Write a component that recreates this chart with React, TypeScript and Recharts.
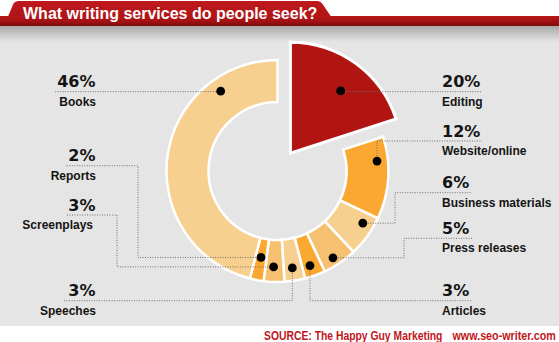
import React from 'react';
import { PieChart, Pie, Cell } from 'recharts';

const categories = [
  'Editing',
  'Website/online',
  'Business materials',
  'Press releases',
  'Articles',
  'Speeches',
  'Screenplays',
  'Reports',
  'Books',
];
const shares = [20, 12, 6, 5, 3, 3, 3, 2, 46];
const shareLabels = ['20%', '12%', '6%', '5%', '3%', '3%', '3%', '2%', '46%'];

const title = 'What writing services do people seek?';
const sourceText = 'SOURCE: The Happy Guy Marketing';
const siteText = 'www.seo-writer.com';

const data = categories.map((name, i) => ({ name, value: shares[i], label: shareLabels[i] }));

const RED = '#B01512';
const ORANGE = '#FAA832';
const LIGHT = '#F7D08F';
const MEDIUM = '#F5C170';
const sliceColors = [RED, ORANGE, LIGHT, MEDIUM, ORANGE, LIGHT, MEDIUM, ORANGE, LIGHT];

const W = 559;
const H = 342;
const CX = 277.5;
const CY = 171;
const OUTER = 111;
const INNER = 69;
const EXPLODE = 22;

// where the dot sits in its slice (fraction of the sweep, radius) and how the leader runs
type Layout = {
  at: number;
  r: number;
  side: 'left' | 'right';
  lineY: number;
  endX: number;
  elbowX?: number;
  nameX?: number;
};
const layout: Record<string, Layout> = {
  Editing: { at: 0.54, r: 80, side: 'right', lineY: 91.7, endX: 482 },
  'Website/online': { at: 0.285, r: 100, side: 'right', lineY: 141, endX: 482 },
  'Business materials': { at: 0.29, r: 100, side: 'right', lineY: 192.7, endX: 472, elbowX: 395 },
  'Press releases': { at: 0.59, r: 103, side: 'right', lineY: 238.3, endX: 472, elbowX: 404 },
  Articles: { at: 0.58, r: 100, side: 'right', lineY: 300.7, endX: 472 },
  Speeches: { at: 0.53, r: 98, side: 'left', lineY: 300.7, endX: 63 },
  Screenplays: { at: 0.55, r: 96, side: 'left', lineY: 215, endX: 66, elbowX: 117, nameX: 93 },
  Reports: { at: 0.5, r: 88, side: 'left', lineY: 165.7, endX: 65, elbowX: 138 },
  Books: { at: 0.786, r: 98, side: 'left', lineY: 91.7, endX: 55 },
};

const valueFont = '"DejaVu Sans", sans-serif';
const nameFont = '"Liberation Sans", Arial, sans-serif';

const makeLabel = (exploded: boolean) => (props: any) => {
  const { cx, cy, startAngle, endAngle, index } = props;
  if ((index === 0) !== exploded) return <g />;
  const name = categories[index];
  const lay = layout[name];
  const a = startAngle + (endAngle - startAngle) * lay.at;
  const rad = (-a * Math.PI) / 180;
  const x = cx + lay.r * Math.cos(rad);
  const y = cy + lay.r * Math.sin(rad);
  const pts = lay.elbowX !== undefined
    ? [[x, y], [lay.elbowX, y], [lay.elbowX, lay.lineY], [lay.endX, lay.lineY]]
    : [[x, y], [x, lay.lineY], [lay.endX, lay.lineY]];
  const right = lay.side === 'right';
  const tx = right ? 442 : 95.5;
  return (
    <g key={`ann-${index}`}>
      <polyline
        points={pts.map((p) => p.join(',')).join(' ')}
        fill="none"
        stroke="#6e6e6e"
        strokeWidth={1}
        strokeDasharray="1 1.5"
      />
      <circle cx={x} cy={y} r={4.4} fill="#000" />
      <text
        x={tx}
        y={lay.lineY - 4.3}
        textAnchor={right ? 'start' : 'end'}
        fontFamily={valueFont}
        fontWeight="bold"
        fontSize={16}
        fill="#141414"
      >
        {shareLabels[index]}
      </text>
      <text
        x={right ? tx : lay.nameX ?? tx + 0.5}
        y={lay.lineY + 13.8}
        textAnchor={right ? 'start' : 'end'}
        fontFamily={nameFont}
        fontWeight="bold"
        fontSize={12}
        fill="#141414"
      >
        {name}
      </text>
    </g>
  );
};

const Backdrop = () => (
  <svg width={W} height={H} style={{ position: 'absolute', left: 0, top: 0 }}>
    <defs>
      <linearGradient id="band" x1="0" y1="0" x2="0" y2="1">
        <stop offset="0" stopColor="#B8161A" />
        <stop offset="0.5" stopColor="#A51214" />
        <stop offset="1" stopColor="#7A0D0D" />
      </linearGradient>
      <linearGradient id="tab" x1="0" y1="0" x2="0" y2="1">
        <stop offset="0" stopColor="#C0191D" />
        <stop offset="1" stopColor="#B01516" />
      </linearGradient>
      <linearGradient id="shade" x1="0" y1="0" x2="0" y2="1">
        <stop offset="0" stopColor="#A8A8A8" />
        <stop offset="1" stopColor="#E5E5E5" />
      </linearGradient>
    </defs>
    <rect x={0} y={0} width={W} height={H} fill="#fff" />
    <rect x={0} y={26} width={W} height={300} fill="#E5E5E5" />
    <rect x={0} y={26} width={W} height={16} fill="url(#shade)" />
    <path d="M8,16.5 L13.5,3.5 Q15,1 18,1 L317,1 Q320.5,1 322.5,4 L331,16.5 Z" fill="url(#tab)" />
    <rect x={0} y={16} width={W} height={10} fill="url(#band)" />
    <text x={23} y={18.5} fontFamily={nameFont} fontWeight="bold" fontSize={16} fill="#fff">
      {title}
    </text>
    <text
      transform="translate(264,340) scale(0.83,1)"
      fontFamily={nameFont}
      fontWeight="bold"
      fontSize={12.5}
      fill="#C0161B"
    >
      {sourceText}
    </text>
    <text
      transform="translate(452.5,340) scale(0.86,1)"
      fontFamily={nameFont}
      fontWeight="bold"
      fontSize={12.5}
      fill="#C0161B"
    >
      {siteText}
    </text>
  </svg>
);

export default function App() {
  // push the first slice out along its middle angle
  const total = shares.reduce((s, v) => s + v, 0);
  const mid = ((90 - (360 * shares[0]) / total / 2) * Math.PI) / 180;
  const ex = CX + EXPLODE * Math.cos(mid);
  const ey = CY - EXPLODE * Math.sin(mid);

  return (
    <div style={{ position: 'absolute', left: 0, top: 0, width: W, height: H }}>
      <Backdrop />
      <div style={{ position: 'absolute', left: 0, top: 0 }}>
        <PieChart width={W} height={H} margin={{ top: 0, right: 0, bottom: 0, left: 0 }}>
          <Pie
            data={data}
            dataKey="value"
            nameKey="name"
            cx={CX}
            cy={CY}
            innerRadius={INNER}
            outerRadius={OUTER}
            startAngle={90}
            endAngle={-270}
            isAnimationActive={false}
            labelLine={false}
            label={makeLabel(false)}
          >
            {data.map((d, i) => (
              <Cell
                key={`c-${d.name}`}
                fill={i === 0 ? 'none' : sliceColors[i]}
                stroke={i === 0 ? 'none' : '#fff'}
                strokeWidth={2.5}
              />
            ))}
          </Pie>
          <Pie
            data={data}
            dataKey="value"
            nameKey="name"
            cx={ex}
            cy={ey}
            innerRadius={0}
            outerRadius={OUTER}
            startAngle={90}
            endAngle={-270}
            isAnimationActive={false}
            labelLine={false}
            label={makeLabel(true)}
          >
            {data.map((d, i) => (
              <Cell
                key={`e-${d.name}`}
                fill={i === 0 ? sliceColors[0] : 'none'}
                stroke={i === 0 ? '#fff' : 'none'}
                strokeWidth={3}
              />
            ))}
          </Pie>
        </PieChart>
      </div>
    </div>
  );
}
